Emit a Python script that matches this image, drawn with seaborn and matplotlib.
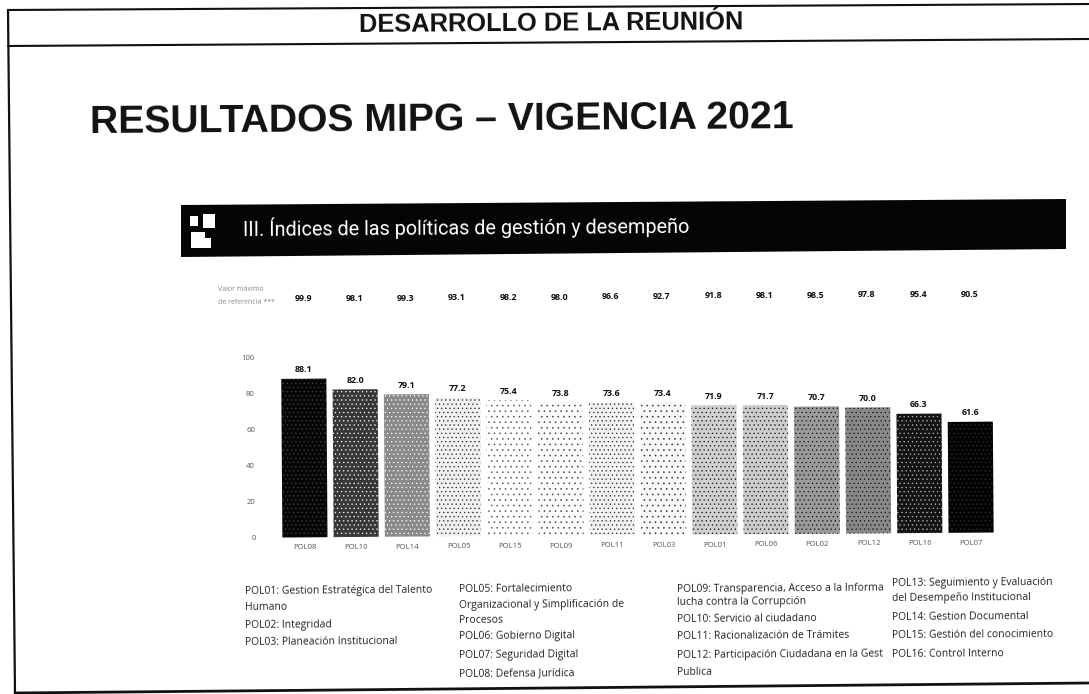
import matplotlib
matplotlib.use("Agg")
import matplotlib.pyplot as plt
import seaborn as sns
import pandas as pd
from matplotlib.patches import Polygon, Rectangle
from matplotlib.lines import Line2D
from matplotlib.transforms import Affine2D

categories = ["POL08","POL10","POL14","POL05","POL15","POL09","POL11","POL03","POL01","POL06","POL02","POL12","POL16","POL07"]
values = [88.1,82.0,79.1,77.2,75.4,73.8,73.6,73.4,71.9,71.7,70.7,70.0,66.3,61.6]
max_ref = [99.9,98.1,99.3,93.1,98.2,98.0,96.6,92.7,91.8,98.1,98.5,97.8,95.4,90.5]
bar_greys = ["#060606","#383838","#8a8a8a","#f0f0f0","#ffffff","#fcfcfc","#f2f2f2","#f8f8f8","#d0d0d0","#cccccc","#9a9a9a","#888888","#141414","#020202"]
dot_colors = ["#444444","#ffffff","#ffffff","#222222","#555555","#444444","#222222","#333333","#111111","#111111","#111111","#111111","#bbbbbb","#333333"]
dot_hatches = ["....","....","....","....","...","...","....","...","....","....","....","....","....","...."]
yticks = [0,20,40,60,80,100]
col1 = [(245,592,"POL01: Gestion Estratégica del Talento"),(245,608,"Humano"),(245,626,"POL02: Integridad"),(245,643,"POL03: Planeación Institucional")]
col2 = [(459,590,"POL05: Fortalecimiento"),(459,606,"Organizacional y Simplificación de"),(459,621,"Procesos"),(459,637,"POL06: Gobierno Digital"),(459,656,"POL07: Seguridad Digital"),(459,674,"POL08: Defensa Jurídica")]
col3 = [(677,590,"POL09: Transparencia, Acceso a la Informa"),(677,603,"lucha contra la Corrupción"),(677,620,"POL10: Servicio al ciudadano"),(677,637,"POL11: Racionalización de Trámites"),(677,656,"POL12: Participación Ciudadana en la Gest"),(677,673,"Publica")]
col4 = [(892,584,"POL13: Seguimiento y Evaluación"),(892,599,"del Desempeño Institucional"),(892,618,"POL14: Gestion Documental"),(892,636,"POL15: Gestión del conocimiento"),(892,655,"POL16: Control Interno")]

W, H = 1089, 694
TILT = 0.4
sns.set_theme(style="white")
plt.rcParams["font.family"] = ["Liberation Sans", "DejaVu Sans"]
plt.rcParams["hatch.linewidth"] = 0.4
fig = plt.figure(figsize=(W/100, H/100), dpi=100, facecolor="white")

# scanned page furniture, in pixel coordinates
pg = fig.add_axes([0, 0, 1, 1], zorder=0)
pg.set_xlim(0, W); pg.set_ylim(H, 0); pg.axis("off")
for xs, ys, lw in [((8,1089),(10,4),1.5),((8,1089),(46,39),1.5),((8,15),(10,693),1.6),((15,1089),(693,683),2.0)]:
    pg.add_line(Line2D(xs, ys, color="#111111", lw=lw))
def t(x, y, s, va="center", **kw):
    pg.text(x, y, s, va=va, rotation=TILT, rotation_mode="anchor", **kw)
t(359, 32, "DESARROLLO DE LA REUNIÓN", va="baseline", ha="left", fontsize=18.3, fontweight="bold", color="#111111")
t(90, 133, "RESULTADOS MIPG – VIGENCIA 2021", va="baseline", ha="left", fontsize=28.2, fontweight="bold", color="#111111")
pg.add_patch(Polygon([(181,205),(1066,199),(1066,249),(181,257)], fc="#050505", ec="none"))
for (x,y,w,h) in [(190,216,8,10),(203,214,12,14),(191,232,14,16),(205,238,6,10)]:
    pg.add_patch(Rectangle((x,y), w, h, fc="white", ec="none"))
t(243, 236, "III. Índices de las políticas de gestión y desempeño", va="baseline", ha="left", fontsize=14.3, color="white", family=["Roboto","DejaVu Sans"])
t(218, 290, "Valor máximo", fontsize=5, color="#888888", family=["Open Sans"])
t(218, 303, "de referencia ***", fontsize=5, color="#888888", family=["Open Sans"])
for col in (col1, col2, col3, col4):
    for x, y, s in col:
        t(x, y, s, fontsize=7.5, color="#222222", family=["Open Sans"])

# bar chart
top_px, base_px = 355, 535
left_px, right_px = 305-25.7, 971+25.7
ax = fig.add_axes([left_px/W, 1-base_px/H, (right_px-left_px)/W, (base_px-top_px)/H], zorder=1)
ax.patch.set_alpha(0)
df = pd.DataFrame({"pol": categories, "val": values})
sns.barplot(data=df, x="pol", y="val", hue="pol", palette=bar_greys, legend=False, width=0.88, saturation=1, ax=ax)
ax.set_ylim(0, 100); ax.set_xlim(-0.5, 13.5)
ax.set_xlabel(""); ax.set_ylabel("")
sns.despine(ax=ax, left=True, bottom=True)
ax.set_yticks(yticks)
ax.tick_params(axis="both", length=0, colors="#555555", labelsize=5.6)
ax.tick_params(axis="y", pad=17)
ax.tick_params(axis="x", pad=5)

fig.canvas.draw()
cx, cy = ax.transAxes.transform((0.5, 0))
rot = Affine2D().rotate_deg_around(cx, cy, TILT)
bars = sorted(ax.patches, key=lambda b: b.get_x())
for p, dc, ht in zip(bars, dot_colors, dot_hatches):
    p.set_transform(ax.transData + rot)
    p.set_clip_on(False)
    p.set_hatch(ht)
    p.set_edgecolor(dc)
    p.set_linewidth(0)
for lab in ax.get_xticklabels() + ax.get_yticklabels():
    lab.set_transform(lab.get_transform() + rot)
    lab.set_rotation(TILT)
    lab.set_fontfamily(["Open Sans"])
for i, (v, m) in enumerate(zip(values, max_ref)):
    ax.text(i, v+5, f"{v:.1f}", ha="center", va="center", fontsize=6.4, fontweight="bold", color="#111111",
            family=["Open Sans"], transform=ax.transData+rot, clip_on=False)
    ax.text(i, 132.5, f"{m:.1f}", ha="center", va="center", fontsize=6.4, fontweight="bold", color="#111111",
            family=["Open Sans"], transform=ax.transData+rot, clip_on=False)
fig.savefig("out.png", dpi=100)
